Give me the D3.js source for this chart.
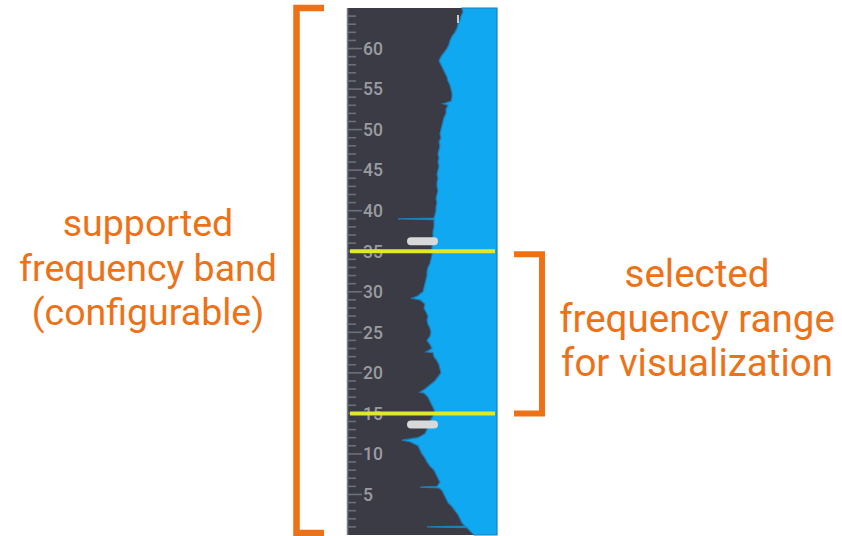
<!DOCTYPE html>
<html>
<head>
<meta charset="utf-8">
<script src="https://cdn.jsdelivr.net/npm/d3@7"></script>
<style>
  body { margin: 0; background: #fff; }
  svg { display: block; }
</style>
</head>
<body>
<div class="svg-container"></div>
<script>
// spectrum: frequency (MHz) and signal level (arbitrary units, measured from the right edge)
const freqs = [
  65, 64.5, 64, 63.5, 63, 62.5, 62, 61.5, 61, 60.5, 60, 59.5, 59, 58.5, 58, 57.5, 57, 56.5, 56, 55.5,
  55, 54.5, 54, 53.5, 53.2, 53, 52.5, 52, 51.5, 51, 50.5, 50, 49.5, 49, 48.5, 48, 47.5, 47, 46.5, 46,
  45.5, 45, 44.5, 44, 43.5, 43, 42.5, 42, 41.5, 41, 40.5, 40, 39.5, 39.1, 39, 38.9, 38.5, 38, 37.5, 37,
  36.5, 36, 35.5, 35, 34.5, 34, 33.5, 33, 32.5, 32, 31.5, 31, 30.5, 30, 29.5, 29.2, 29, 28.5, 28, 27.5,
  27, 26.5, 26, 25.5, 25, 24.5, 24, 23.5, 23, 22.6, 22.5, 22, 21.5, 21, 20.5, 20, 19.5, 19, 18.5, 18,
  17.6, 17.5, 17, 16.5, 16, 15.5, 15, 14.5, 14, 13.5, 13, 12.5, 12, 11.7, 11.5, 11, 10.5, 10, 9.5, 9,
  8.5, 8, 7.5, 7, 6.5, 6, 5.9, 5.8, 5.5, 5, 4.5, 4, 3.5, 3, 2.5, 2, 1.5, 1.1, 1, 0.9,
  0.5, 0
];
const levels = [
  35, 34, 36, 37, 39, 40, 42, 45, 47, 48, 50, 53, 56, 58, 56, 54, 52, 50, 49, 47,
  46, 45, 45, 46, 54, 49, 51, 51, 53, 54, 55, 56, 57, 56, 58, 57, 58, 59, 58, 59,
  58, 59, 60, 59, 60, 60, 59, 60, 61, 60, 61, 61, 62, 63, 99, 63, 63, 63, 64, 64,
  64, 64, 65, 65, 65, 66, 67, 69, 70, 70, 71, 72, 73, 74, 79, 85, 77, 72, 73, 71,
  69, 70, 69, 67, 66, 67, 70, 67, 65, 71, 64, 63, 60, 58, 57, 56, 59, 62, 67, 72,
  77, 73, 69, 67, 65, 63, 62, 65, 67, 69, 70, 72, 79, 95, 87, 79, 77, 75, 72, 70,
  67, 63, 61, 59, 57, 60, 77, 58, 55, 53, 51, 49, 45, 42, 39, 37, 35, 32, 70, 30,
  27, 23
];

const tickLabels = [5, 10, 15, 20, 25, 30, 35, 40, 45, 50, 55, 60];
const selectedRange = [15, 35];
const bandRange = [0, 65];

const leftNote = ["supported", "frequency band", "(configurable)"];
const rightNote = ["selected", "frequency range", "for visualization"];

const width = 842;
const height = 536;

const ORANGE = "#ed7217";
const DARK = "#3a3b44";
const BLUE = "#10a8f0";

let svg = d3.select(".svg-container")
  .append("svg")
  .attr("width", width)
  .attr("height", height);

// strip area
const stripLeft = 347, stripRight = 497, stripTop = 8, stripBottom = 535;

const y = d3.scaleLinear().domain(bandRange).range([stripBottom, stripTop]);
const x = d3.scaleLinear().domain([0, 150]).range([stripRight, stripLeft]);

svg.append("rect")
  .attr("x", stripLeft).attr("y", stripTop)
  .attr("width", stripRight - stripLeft).attr("height", stripBottom - stripTop)
  .attr("fill", DARK);

const spectrum = freqs.map((f, i) => ({ f: f, v: levels[i] }));

svg.append("path")
  .datum(spectrum)
  .attr("fill", BLUE)
  .attr("stroke", "#1b7fb8")
  .attr("stroke-width", 1.2)
  .attr("d", d3.area()
    .y(d => y(d.f))
    .x0(stripRight)
    .x1(d => x(d.v)));

// axis line
svg.append("line")
  .attr("x1", stripLeft + 0.5).attr("x2", stripLeft + 0.5)
  .attr("y1", stripTop).attr("y2", stripBottom)
  .attr("stroke", "#7d7f80").attr("stroke-width", 1.5);

// minor ticks every MHz, major every 5
const minorTicks = d3.range(1, 65);
svg.append("g")
  .selectAll("line")
  .data(minorTicks)
  .enter()
  .append("line")
  .attr("x1", stripLeft)
  .attr("x2", d => d % 5 === 0 ? stripLeft + 15 : stripLeft + 9)
  .attr("y1", d => y(d))
  .attr("y2", d => y(d))
  .attr("stroke", "#6e7078")
  .attr("stroke-width", 1.6);

svg.append("g")
  .selectAll("text")
  .data(tickLabels)
  .enter()
  .append("text")
  .attr("x", stripLeft + 16)
  .attr("y", d => y(d))
  .attr("dy", "0.36em")
  .attr("fill", "#9a9ba1")
  .style("font-family", "Roboto")
  .style("font-weight", "500")
  .style("font-size", "17.5px")
  .text(d => d);

// slider handles
selectedRange.forEach(function(f) {
  let handleY = f === selectedRange[1] ? y(f) - 10 : y(f) + 11;
  svg.append("rect")
    .attr("x", 407).attr("y", handleY - 4)
    .attr("width", 31).attr("height", 8)
    .attr("rx", 4)
    .attr("fill", "#d9d9d9");
});

// selection lines
svg.append("g")
  .selectAll("line")
  .data(selectedRange)
  .enter()
  .append("line")
  .attr("x1", 350).attr("x2", 495)
  .attr("y1", d => y(d)).attr("y2", d => y(d))
  .attr("stroke", "#e0e82a")
  .attr("stroke-width", 4);

// small marker near top
svg.append("rect")
  .attr("x", 457).attr("y", 15).attr("width", 2).attr("height", 8)
  .attr("fill", "#c9cdd2");

// brackets
svg.append("path")
  .attr("d", "M324,8 H296.5 V533 H324")
  .attr("fill", "none")
  .attr("stroke", ORANGE)
  .attr("stroke-width", 6.5);

svg.append("path")
  .attr("d", "M514," + (y(selectedRange[1]) + 3) + " H542 V" + (y(selectedRange[0]) + 0) + " H514")
  .attr("fill", "none")
  .attr("stroke", ORANGE)
  .attr("stroke-width", 6);

function note(lines, cx, baseline, size)
{
  svg.append("g")
    .selectAll("text")
    .data(lines)
    .enter()
    .append("text")
    .attr("x", cx)
    .attr("y", (d, i) => baseline + i * 44.5)
    .attr("text-anchor", "middle")
    .attr("fill", ORANGE)
    .style("font-family", "Roboto")
    .style("font-size", size + "px")
    .text(d => d);
}

note(leftNote, 148, 236, 37.5);
note(rightNote, 697, 287, 38.5);
</script>
</body>
</html>
